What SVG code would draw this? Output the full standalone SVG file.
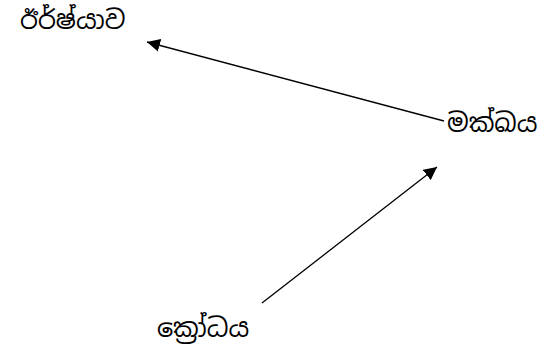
<svg xmlns="http://www.w3.org/2000/svg" width="547" height="349" viewBox="0 0 547 349">
<style>
text{font-family:"Noto Sans Sinhala","Iskoola Pota","Noto Sans","DejaVu Sans",sans-serif;font-size:25.5px;fill:#000}
.c{stroke:#000;stroke-width:1.3;fill:none}
</style>
<defs><marker id="a" viewBox="0 0 10 10" refX="10" refY="5" markerWidth="13" markerHeight="13" markerUnits="userSpaceOnUse" orient="auto"><path d="M0,0L10,5L0,10z" fill="#000"/></marker></defs>
<rect width="547" height="349" fill="#fff"/>
<g id="connectors">
<line class="c" x1="444" y1="121" x2="147" y2="42" marker-end="url(#a)"/>
<line class="c" x1="262" y1="303" x2="437" y2="167" marker-end="url(#a)"/>
</g>
<g id="n1"><text x="20" y="29">ඊර්ෂ්යාව</text></g>
<g id="n2"><text x="447" y="132">මක්ඛය</text></g>
<g id="n3"><text x="157" y="337">ක්‍රෝධය</text></g>
</svg>
